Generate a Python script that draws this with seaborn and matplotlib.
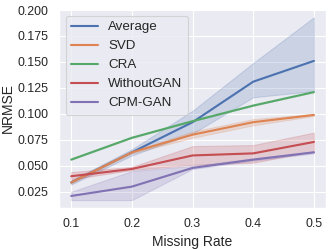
import numpy as np
import pandas as pd
import matplotlib
matplotlib.use("Agg")
import matplotlib.pyplot as plt
import seaborn as sns

missing_rate = [0.1, 0.2, 0.3, 0.4, 0.5]
methods = ["Average", "SVD", "CRA", "WithoutGAN", "CPM-GAN"]

avg_mean = [0.034, 0.063, 0.092, 0.131, 0.151]
avg_lo = [0.032, 0.060, 0.081, 0.116, 0.122]
avg_hi = [0.036, 0.066, 0.103, 0.149, 0.193]

svd_mean = [0.034, 0.063, 0.080, 0.092, 0.099]
svd_lo = [0.033, 0.062, 0.077, 0.089, 0.098]
svd_hi = [0.035, 0.064, 0.083, 0.095, 0.100]

cra_mean = [0.056, 0.077, 0.093, 0.108, 0.121]
cra_lo = cra_mean
cra_hi = cra_mean

wgan_mean = [0.040, 0.047, 0.060, 0.062, 0.073]
wgan_lo = [0.037, 0.046, 0.051, 0.053, 0.064]
wgan_hi = [0.044, 0.049, 0.069, 0.070, 0.082]

cpm_mean = [0.021, 0.030, 0.048, 0.056, 0.063]
cpm_lo = [0.017, 0.017, 0.047, 0.055, 0.062]
cpm_hi = [0.025, 0.045, 0.050, 0.057, 0.064]

series = {
    "Average": (avg_lo, avg_mean, avg_hi),
    "SVD": (svd_lo, svd_mean, svd_hi),
    "CRA": (cra_lo, cra_mean, cra_hi),
    "WithoutGAN": (wgan_lo, wgan_mean, wgan_hi),
    "CPM-GAN": (cpm_lo, cpm_mean, cpm_hi),
}

rows = []
for m in methods:
    lo, mid, hi = series[m]
    for i, x in enumerate(missing_rate):
        for v in (lo[i], mid[i], hi[i]):
            rows.append({"Missing Rate": x, "NRMSE": v, "Method": m})
df = pd.DataFrame(rows)

sns.set_theme(style="darkgrid", context="notebook")
plt.rcParams["font.family"] = ["Liberation Sans", "DejaVu Sans"]

fig, ax = plt.subplots(figsize=(4.15, 3.1125), dpi=80)
sns.lineplot(data=df, x="Missing Rate", y="NRMSE", hue="Method",
             hue_order=methods, estimator="median",
             errorbar=lambda v: (v.min(), v.max()), linewidth=1.9, ax=ax)
ax.set_xticks(missing_rate)
ax.set_ylim(0.0095, 0.201)
ax.set_yticks([0.025, 0.05, 0.075, 0.1, 0.125, 0.15, 0.175, 0.2])
ax.set_yticklabels(["0.025", "0.050", "0.075", "0.100", "0.125", "0.150", "0.175", "0.200"])
ax.tick_params(labelsize=11.2)
ax.set_xlabel("Missing Rate", fontsize=12.5)
ax.set_ylabel("NRMSE", fontsize=12.5, labelpad=2)
ax.legend(loc="upper left", fontsize=12)
fig.subplots_adjust(left=0.178, right=0.982, top=0.964, bottom=0.165)
fig.savefig("out.png", dpi=80)
